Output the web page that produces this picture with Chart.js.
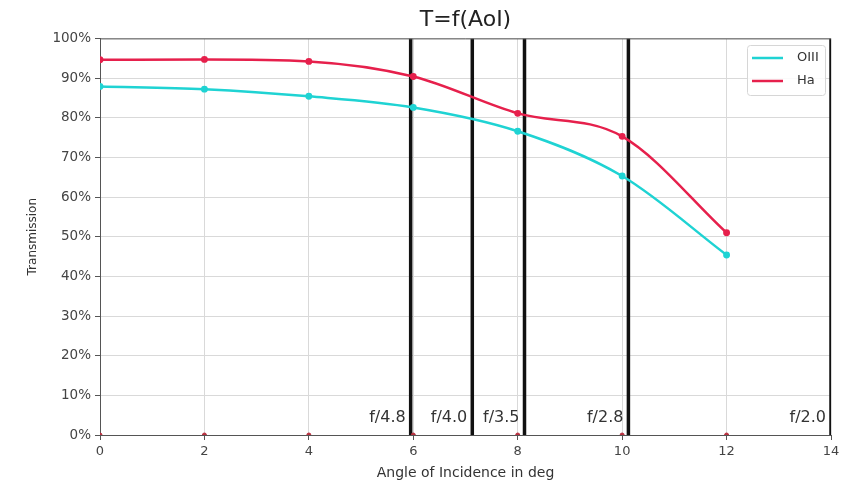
<!DOCTYPE html>
<html>
<head>
<meta charset="utf-8">
<script src="https://cdn.jsdelivr.net/npm/chart.js@4.4.1/dist/chart.umd.min.js"></script>
<style>
  html, body { margin: 0; padding: 0; background: #fff; }
  #wrap { width: 846px; height: 484px; }
</style>
</head>
<body>
<div id="wrap"><canvas id="c" width="846" height="484"></canvas></div>
<script>
// ---- data ----
const angles = [0, 2, 4, 6, 8, 10, 12];
const oiii   = [87.9, 87.2, 85.4, 82.6, 76.6, 65.3, 45.4];
const ha     = [94.6, 94.7, 94.2, 90.4, 81.1, 75.3, 51.0];
const baseline = [0, 0, 0, 0, 0, 0, 0];
const fLabels = ['f/4.8', 'f/4.0', 'f/3.5', 'f/2.8', 'f/2.0'];
const fAngles = [5.95, 7.13, 8.13, 10.12, 14.0];
const xTicks = [0, 2, 4, 6, 8, 10, 12, 14];
const yTicks = [0, 10, 20, 30, 40, 50, 60, 70, 80, 90, 100];

const CYAN = '#1fd3d3';
const RED = '#e6204c';
const FONT = "'DejaVu Sans', sans-serif";

const pts = (xs, ys) => xs.map((x, i) => ({ x: x, y: ys[i] }));

const datasets = [
  { label: 'OIII', data: pts(angles, oiii), borderColor: CYAN, backgroundColor: CYAN,
    borderWidth: 2.5, pointRadius: 2.2, pointHoverRadius: 2.2, cubicInterpolationMode: 'monotone', order: 2 },
  { label: 'Ha', data: pts(angles, ha), borderColor: RED, backgroundColor: RED,
    borderWidth: 2.5, pointRadius: 2.2, pointHoverRadius: 2.2, cubicInterpolationMode: 'monotone', order: 1 },
  { label: '_base', data: pts(angles, baseline), showLine: false, borderColor: '#b8303f',
    backgroundColor: '#b8303f', pointRadius: 2, order: 0 }
];
fAngles.forEach((a, i) => {
  datasets.push({ label: '_f' + i, data: [{ x: a, y: 0 }, { x: a, y: 100 }],
    borderColor: '#111', borderWidth: 3.5, pointRadius: 0, tension: 0, order: 3 });
});

const extras = {
  id: 'extras',
  afterDatasetsDraw(chart) {
    const { ctx, chartArea: ca, scales: { x, y } } = chart;
    ctx.save();
    // frame (top spine)
    ctx.strokeStyle = '#555';
    ctx.lineWidth = 1;
    ctx.beginPath();
    ctx.moveTo(ca.left, ca.top + 0.5);
    ctx.lineTo(ca.right, ca.top + 0.5);
    ctx.stroke();
    // f-number labels
    ctx.font = '16px ' + FONT;
    ctx.fillStyle = '#333';
    ctx.textAlign = 'right';
    ctx.textBaseline = 'middle';
    fAngles.forEach((a, i) => {
      ctx.fillText(fLabels[i], x.getPixelForValue(a) - 5, y.getPixelForValue(4.3));
    });
    // legend inside top-right
    const lx = 747, ly = 45, lw = 78, lh = 50;
    ctx.fillStyle = 'rgba(255,255,255,0.85)';
    ctx.strokeStyle = '#d6d6d6';
    ctx.lineWidth = 1;
    ctx.beginPath();
    ctx.roundRect(lx + 0.5, ly + 0.5, lw, lh, 3);
    ctx.fill();
    ctx.stroke();
    const items = [['OIII', CYAN], ['Ha', RED]];
    ctx.font = '13px ' + FONT;
    ctx.textAlign = 'left';
    items.forEach((it, i) => {
      const yy = ly + 13 + i * 23;
      ctx.strokeStyle = it[1];
      ctx.lineWidth = 2.5;
      ctx.beginPath();
      ctx.moveTo(lx + 5, yy);
      ctx.lineTo(lx + 36, yy);
      ctx.stroke();
      ctx.fillStyle = '#333';
      ctx.fillText(it[0], lx + 50, yy);
    });
    ctx.restore();
  }
};

new Chart(document.getElementById('c'), {
  type: 'line',
  data: { datasets },
  options: {
    responsive: false,
    animation: false,
    devicePixelRatio: 1,
    layout: { padding: { left: 26, right: 15, top: 0, bottom: 2 } },
    plugins: {
      legend: { display: false },
      tooltip: { enabled: false },
      title: { display: true, text: 'T=f(AoI)', fullSize: false, color: '#222',
        font: { family: FONT, size: 22, weight: 'normal' }, padding: { top: 7, bottom: 5 } }
    },
    scales: {
      x: {
        type: 'linear', min: 0, max: 14,
        afterFit: s => { s.height = 47; },
        afterBuildTicks: s => { s.ticks = xTicks.map(v => ({ value: v })); },
        ticks: { color: '#444', font: { family: FONT, size: 13 }, padding: 4, maxRotation: 0 },
        grid: { color: '#d9d9d9', tickColor: '#555', tickLength: 5 },
        border: { color: '#555', width: 1 },
        title: { display: true, text: 'Angle of Incidence in deg', color: '#333',
          font: { family: FONT, size: 14 }, padding: { top: 0, bottom: 0 } }
      },
      y: {
        type: 'linear', min: 0, max: 100,
        afterFit: s => { s.width = 74; },
        afterBuildTicks: s => { s.ticks = yTicks.map(v => ({ value: v })); },
        ticks: { color: '#444', font: { family: FONT, size: 13.5 }, padding: 4,
          callback: v => v + '%' },
        grid: { color: '#d9d9d9', tickColor: '#555', tickLength: 5 },
        border: { color: '#555', width: 1 },
        title: { display: true, text: 'Transmission', color: '#333',
          font: { family: FONT, size: 12 }, padding: { top: 0, bottom: 0 } }
      }
    }
  },
  plugins: [extras]
});
</script>
</body>
</html>
